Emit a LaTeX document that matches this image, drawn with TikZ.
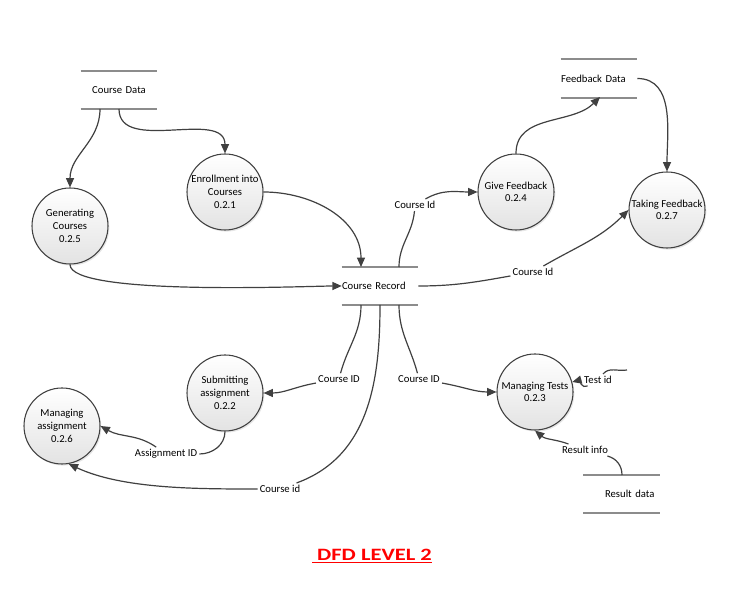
\documentclass[tikz,border=0pt]{standalone}
\usepackage{fontspec}
\setmainfont{Carlito}
\usepackage{xcolor}
\usepackage{graphicx}
\usetikzlibrary{arrows.meta,shadows}
\definecolor{linegray}{HTML}{404040}
\definecolor{storegray}{HTML}{8C8C8C}

\begin{document}
\begin{tikzpicture}[x=0.75pt,y=0.75pt,
  font=\fontsize{8}{9.5}\selectfont,
  proc/.style={circle,draw=linegray,line width=0.8pt,top color=white,
    bottom color=black!11,minimum size=57pt,inner sep=0pt,align=center,
    drop shadow={opacity=0.2,shadow xshift=1pt,shadow yshift=-1.2pt}},
  store/.style={minimum width=57pt,minimum height=28.5pt,inner sep=0pt},
  storeline/.style={draw=storegray,line width=1.4pt},
  flow/.style={draw=linegray,line width=0.9pt},
  arr/.style={flow,-{Triangle[length=7pt,width=6pt]}},
  lbl/.style={inner sep=1.5pt}]
  \useasboundingbox (0,0) rectangle (739,599);

  % data stores
  \node[store,text width=57pt,align=center] (cd) at (119,509) {Course Data};
  \node[store,text width=57pt,align=left] (cr) at (380,313) {Course Record};
  \node[store,text width=57pt,align=left] (fd) at (599,520.5) {Feedback Data};
  \node[store,text width=49.5pt,align=right] (rd) at (621.5,105) {Result data};
  \foreach \s in {cd,cr,fd,rd}
    \draw[storeline] (\s.north west) -- (\s.north east) (\s.south west) -- (\s.south east);

  % processes
  \node[proc] (gc) at (70,373) {Generating\\Courses\\0.2.5};
  \node[proc] (ec) at (225,407) {Enrollment into\\Courses\\0.2.1};
  \node[proc] (gf) at (516,407) {Give Feedback\\0.2.4};
  \node[proc] (tf) at (667,389) {Taking Feedback\\0.2.7};
  \node[proc] (sa) at (225,206) {Submitting\\assignment\\0.2.2};
  \node[proc] (ma) at (62,173) {Managing\\assignment\\0.2.6};
  \node[proc] (mt) at (535,207) {Managing Tests\\0.2.3};

  % flow labels
  \node[lbl] (l1) at (415,394) {Course Id};
  \node[lbl] (l2) at (533,327) {Course Id};
  \node[lbl] (l3) at (339,220) {Course ID};
  \node[lbl] (l4) at (419,220) {Course ID};
  \node[lbl] (l5) at (280,110) {Course id};
  \node[lbl] (l6) at (166,145) {Assignment ID};
  \node[lbl] (l7) at (598,219) {Test id};
  \node[lbl] (l8) at (585,149) {Result info};

  % ports on the stores
  \coordinate (cdA) at (100,490); \coordinate (cdB) at (119,490);
  \coordinate (crA) at (361,332); \coordinate (crC) at (399,332);
  \coordinate (crD) at (361,294); \coordinate (crE) at (380,294);
  \coordinate (crF) at (399,294);
  \coordinate (fdB) at (600,502); \coordinate (rdA) at (622,124);
  \coordinate (ti) at (627,229);

  % flows
  \draw[arr] (cdA) to[out=-90,in=90] (gc);
  \draw[arr] (cdB) to[out=-90,in=90] (ec);
  \draw[arr] (ec) to[out=0,in=90] (crA);
  \draw[arr] (gc) to[out=-90,in=180,looseness=0.3] (cr);
  \draw[flow] (crC) to[out=90,in=-95] (l1);
  \draw[arr] (l1) to[out=30,in=180] (gf);
  \draw[arr] (gf) to[out=90,in=-135] (fdB);
  \draw[arr] (fd.east) to[out=0,in=90] (tf);
  \draw[flow] (cr.east) to[out=0,in=190] (l2);
  \draw[arr] (l2) to[out=30,in=-135] (tf.west);
  \draw[flow] (crD) to[out=-90,in=75] (l3);
  \draw[arr] (l3) to[out=190,in=0] (sa);
  \draw[flow] (crE) to[out=-90,in=20] (l5);
  \draw[arr] (l5) to[out=180,in=-25,looseness=0.8] (ma.-80);
  \draw[flow] (crF) to[out=-90,in=105] (l4);
  \draw[arr] (l4) to[out=-10,in=180] (mt);
  \draw[flow] (sa) to[out=-90,in=0] (l6);
  \draw[arr] (l6) to[out=145,in=-30] (ma.east);
  \draw[flow] (ti) to[out=190,in=50] (l7);
  \draw[arr] (l7) to[out=-150,in=15] (mt);
  \draw[flow] (rdA) to[out=90,in=-15] (l8);
  \draw[arr] (l8) to[out=160,in=-40] (mt.south);

  \node[font=\fontsize{13}{15}\selectfont\bfseries,text=red] (title) at (372,43)
    {\scalebox{1.3}[1]{\underline{\ DFD LEVEL 2}}};
\end{tikzpicture}
\end{document}
